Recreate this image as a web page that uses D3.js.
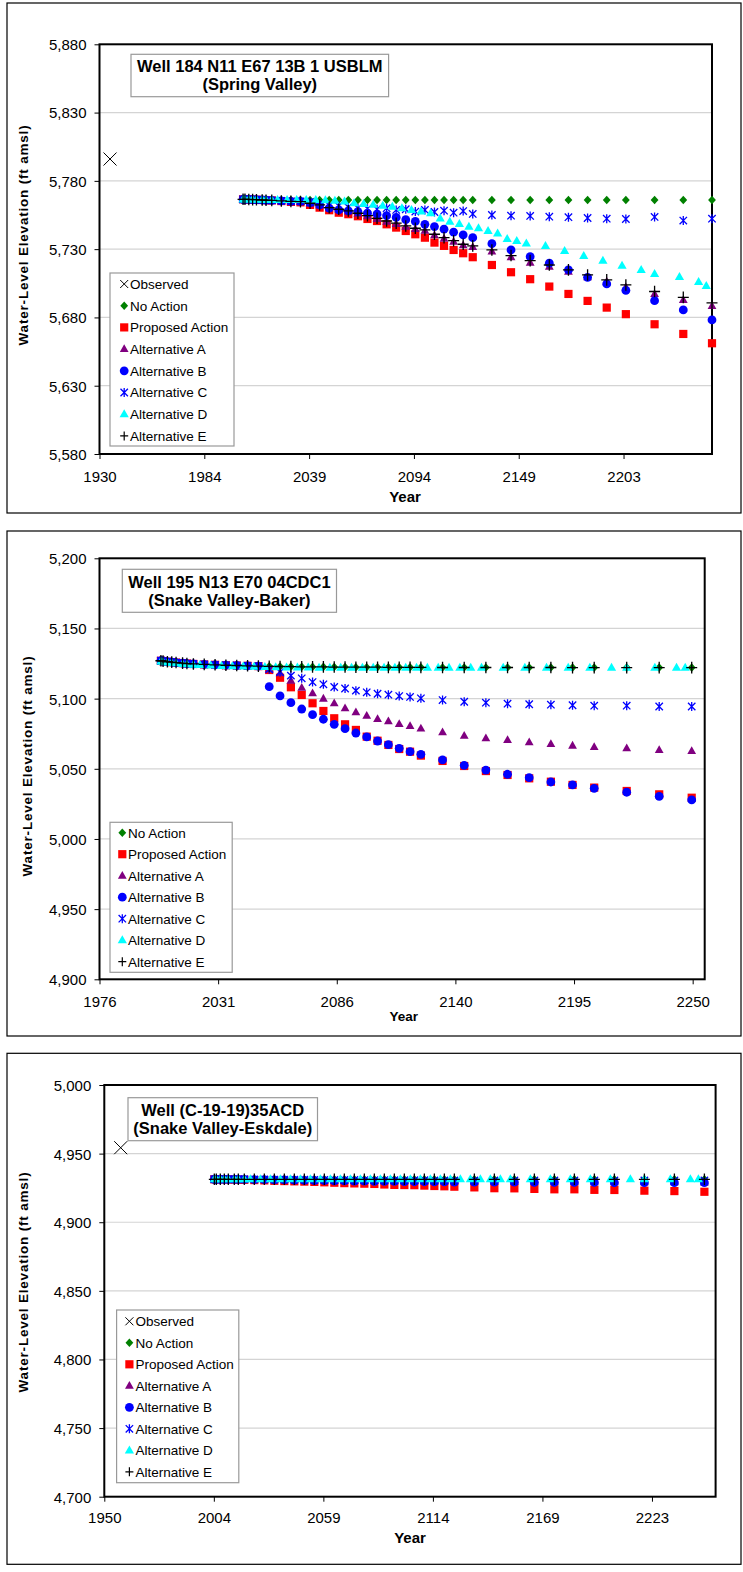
<!DOCTYPE html>
<html>
  <head>
    <title>Water-level hydrographs</title>
    <script src="https://d3js.org/d3.v7.min.js"></script>
    <style>
      body { margin: 0; background: #fff; }
      text { font-family: "Liberation Sans", Arial, sans-serif; fill: #000; }
      .tick-label { font-size: 15px; }
      .legend-label { font-size: 13.5px; }
      .title { font-size: 16.5px; font-weight: bold; }
      .axis-title { font-weight: bold; }
    </style>
  </head>
  <body>
    <svg width="743" height="1572"></svg>
    <script>
      // ---- shared time steps (decimal years) ----
      const simYears = [2005, 2006, 2008, 2010, 2012, 2015, 2017, 2020, 2025, 2030, 2035, 2040, 2045, 2050,
        2055, 2060, 2065, 2070, 2075, 2080, 2085, 2090, 2095, 2100, 2105, 2110, 2115, 2120, 2125,
        2135, 2145, 2155, 2165, 2175, 2185, 2195, 2205, 2220, 2235, 2250];
      const altDYears = [2005, 2006, 2008, 2010, 2012, 2015, 2017, 2020, 2023, 2028, 2033, 2038, 2043, 2048,
        2053, 2058, 2063, 2068, 2073, 2078, 2083, 2088, 2093, 2098, 2103, 2108, 2113, 2118, 2123, 2128,
        2133, 2138, 2143, 2148, 2153, 2163, 2173, 2183, 2193, 2203, 2213, 2220, 2233, 2243, 2247];

      // ---- Panel 1: Well 184 N11 E67 13B 1 USBLM ----
      const p1ObsYears = [1935.5];
      const p1Observed = [5796];
      const p1NoAction = [5766.5, 5766.5, 5766.4, 5766.4, 5766.3, 5766.2, 5766.1, 5766, 5766, 5766, 5766, 5766, 5766, 5766,
        5766, 5766, 5766, 5766, 5766, 5766, 5766, 5766, 5766, 5766, 5766, 5766, 5766, 5766, 5766,
        5766, 5766, 5766, 5766, 5766, 5766, 5766, 5766, 5766, 5766, 5766];
      const p1Proposed = [5766.5, 5766.5, 5766.4, 5766.3, 5766.2, 5766, 5765.8, 5765.7, 5765.2, 5764.6, 5764.3, 5762.4, 5760.4, 5758.5,
        5756.7, 5755.6, 5754.1, 5752.1, 5750.6, 5748.2, 5745.8, 5743.3, 5740.9, 5738.4, 5734.8, 5732.4, 5729.4, 5727, 5724.1,
        5718.4, 5713.1, 5708, 5702.6, 5697.2, 5692.1, 5687.2, 5682.4, 5675, 5667.9, 5661.1];
      const p1AltA = [5766.5, 5766.5, 5766.4, 5766.3, 5766.2, 5766, 5765.8, 5765.7, 5765.3, 5765, 5764.5, 5763.2, 5762, 5760,
        5758.8, 5757.6, 5755.9, 5754, 5752.1, 5750.1, 5748.4, 5746.4, 5744.7, 5743.4, 5740.2, 5737.7, 5735.5, 5732.9, 5731.6,
        5728.2, 5724.1, 5720.1, 5717.2, 5713.5, 5709.4, 5706.2, 5702.1, 5697.2, 5692.8, 5688.4];
      const p1AltB = [5766.5, 5766.5, 5766.4, 5766.3, 5766.2, 5766, 5765.8, 5765.7, 5765.3, 5765, 5765, 5764, 5762.4, 5760,
        5758.7, 5758, 5757.5, 5756.3, 5755.6, 5754.5, 5753.2, 5751.6, 5750.3, 5748.2, 5746.5, 5744.6, 5742.4, 5740.4, 5738.4,
        5734, 5729.4, 5724.5, 5719.7, 5714.8, 5709.4, 5704.5, 5699.8, 5692.3, 5685.5, 5678.2];
      const p1AltC = [5766.5, 5766.5, 5766.4, 5766.3, 5766.2, 5766, 5765.8, 5765.7, 5765.3, 5765, 5765, 5764.5, 5763, 5762,
        5761.6, 5760.7, 5760, 5759.5, 5759.2, 5760, 5758.7, 5759.2, 5757.5, 5758.7, 5757.2, 5758.2, 5756.7, 5757.9, 5755.8,
        5755, 5754.5, 5754.3, 5753.8, 5753.4, 5752.8, 5752.3, 5752.1, 5753.6, 5750.9, 5752.3];
      const p1AltD = [5766.5, 5766.5, 5766.4, 5766.4, 5766.3, 5766.2, 5766.1, 5766, 5766, 5766, 5766, 5766, 5766, 5765.8,
        5765.5, 5765, 5763.6, 5763.1, 5762.6, 5761.9, 5761.1, 5760, 5758.7, 5757.6, 5756.3, 5752.6, 5750.1, 5748.5, 5746.5, 5745.3,
        5743.4, 5741.6, 5737.5, 5736, 5734.3, 5732.3, 5728.8, 5725.1, 5721.5, 5718, 5714.8, 5711.9, 5709.6, 5706, 5703];
      const p1AltE = [5766.5, 5766.5, 5766.4, 5766.3, 5766.2, 5766, 5765.8, 5765.7, 5765.3, 5765, 5764.8, 5763.6, 5762.4, 5760.4,
        5759.2, 5758, 5756.3, 5754.5, 5752.6, 5750.6, 5749, 5747, 5745.3, 5744.1, 5740.9, 5738.4, 5736.2, 5733.6, 5732.4,
        5729.4, 5725.3, 5721.6, 5718.4, 5714.8, 5711.1, 5707.5, 5703.8, 5699, 5694.7, 5690.6];
      const p1XTickLabels = ["1930", "1984", "2039", "2094", "2149", "2203"];

      // ---- Panel 2: Well 195 N13 E70 04CDC1 ----
      const p2NoAction = [5127, 5126.7, 5126.3, 5126, 5125.7, 5125.3, 5125, 5124.7, 5124.4, 5124.1, 5123.8, 5123.6, 5123.4, 5123.2,
        5123, 5122.9, 5122.8, 5122.7, 5122.6, 5122.6, 5122.5, 5122.5, 5122.4, 5122.4, 5122.4, 5122.3, 5122.3, 5122.3, 5122.3,
        5122.2, 5122.2, 5122.2, 5122.2, 5122.2, 5122.2, 5122.1, 5122.1, 5122.1, 5122.1, 5122.1];
      const p2Proposed = [5127, 5126.7, 5126.3, 5126, 5125.7, 5125.3, 5125, 5124.7, 5124.4, 5124.1, 5123.8, 5123.6, 5123.4, 5123.2,
        5120.4, 5114.9, 5108.1, 5102.6, 5096.7, 5091.2, 5086, 5081.7, 5077.7, 5072.9, 5070, 5067, 5064.1, 5062.2, 5059.4,
        5055.6, 5052, 5048.4, 5045.6, 5043.2, 5040.8, 5038.5, 5036.6, 5034.2, 5031.8, 5029.4];
      const p2AltA = [5127, 5126.7, 5126.3, 5126, 5125.7, 5125.3, 5125, 5124.7, 5124.4, 5124.1, 5123.8, 5123.6, 5123.4, 5123.2,
        5120.9, 5118, 5112.8, 5107.8, 5103.8, 5100, 5096.7, 5093.1, 5090.3, 5087.8, 5085.5, 5083.9, 5081.9, 5080.5, 5078.7,
        5076, 5073.6, 5071.7, 5070.5, 5068.9, 5067.7, 5066.5, 5065.5, 5064.6, 5063.4, 5062.7];
      const p2AltB = [5127, 5126.7, 5126.3, 5126, 5125.7, 5125.3, 5125, 5124.7, 5124.4, 5124.1, 5123.8, 5123.6, 5123.4, 5123.2,
        5108.5, 5101.9, 5097.1, 5092.6, 5088.6, 5085.3, 5081.7, 5078.6, 5075.5, 5072.7, 5069.8, 5067.2, 5064.6, 5062.2, 5060.3,
        5056.3, 5052.5, 5049.1, 5046.1, 5043.7, 5040.6, 5038.5, 5036.1, 5033.3, 5030.4, 5027.8];
      const p2AltC = [5127, 5126.7, 5126.3, 5126, 5125.7, 5125.3, 5125, 5124.7, 5124.4, 5124.1, 5123.8, 5123.6, 5123.4, 5123.2,
        5120.9, 5119, 5116.4, 5114.5, 5111.8, 5110.2, 5108.3, 5107.2, 5105.7, 5104.5, 5103.5, 5102.8, 5101.8, 5101.2, 5100.2,
        5099, 5097.8, 5097.1, 5096.4, 5096, 5095.7, 5095.3, 5095, 5095, 5094.4, 5094.4];
      const p2AltD = [5126.5, 5126.2, 5125.8, 5125.5, 5125.2, 5124.8, 5124.5, 5124.2, 5124, 5123.7, 5123.4, 5123.2, 5123, 5122.8,
        5122.6, 5122.4, 5122.3, 5122.2, 5122.2, 5122.1, 5122.1, 5122.1, 5122, 5122, 5122, 5122, 5122, 5122, 5122, 5122,
        5122, 5122, 5122, 5122, 5122, 5122, 5122, 5122, 5122, 5122, 5122, 5122, 5122, 5122, 5122];
      const p2AltE = [5127, 5126.7, 5126.3, 5126, 5125.7, 5125.3, 5125, 5124.7, 5124.4, 5124.1, 5123.8, 5123.6, 5123.4, 5123.2,
        5123, 5122.9, 5122.8, 5122.7, 5122.6, 5122.6, 5122.5, 5122.5, 5122.4, 5122.4, 5122.4, 5122.3, 5122.3, 5122.3, 5122.3,
        5122.2, 5122.2, 5122.2, 5122.2, 5122.2, 5122.2, 5122.1, 5122.1, 5122.1, 5122.1, 5122.1];
      const p2XTickLabels = ["1976", "2031", "2086", "2140", "2195", "2250"];

      // ---- Panel 3: Well (C-19-19)35ACD ----
      const p3ObsYears = [1958.2];
      const p3Observed = [4954.3];
      const p3NoAction = [4931.3, 4931.3, 4931.3, 4931.3, 4931.3, 4931.3, 4931.3, 4931.3, 4931.3, 4931.3, 4931.3, 4931.3, 4931.3, 4931.3,
        4931.3, 4931.3, 4931.3, 4931.3, 4931.3, 4931.3, 4931.3, 4931.3, 4931.3, 4931.3, 4931.3, 4931.3, 4931.3, 4931.3, 4931.3,
        4931.3, 4931.3, 4931.3, 4931.3, 4931.3, 4931.3, 4931.3, 4931.3, 4931.3, 4931.3, 4931.3];
      const p3Proposed = [4931.3, 4931.3, 4931.3, 4931.3, 4931.2, 4931.1, 4931, 4930.9, 4930.7, 4930.5, 4930.2, 4930, 4929.8, 4929.6,
        4929.4, 4929.1, 4928.8, 4928.5, 4928.3, 4928.1, 4927.9, 4927.5, 4927.2, 4927.1, 4927, 4926.7, 4926.4, 4926.2, 4925.9,
        4925.4, 4924.8, 4924.7, 4924.3, 4924, 4924, 4923.6, 4923.5, 4923, 4922.7, 4922.2];
      const p3AltA = [4931.3, 4931.3, 4931.3, 4931.3, 4931.3, 4931.3, 4931.3, 4931.2, 4931.1, 4931, 4930.9, 4930.8, 4930.7, 4930.6,
        4930.5, 4930.4, 4930.3, 4930.2, 4930.1, 4930, 4930, 4929.9, 4929.9, 4929.8, 4929.8, 4929.7, 4929.7, 4929.6, 4929.6,
        4929.5, 4929.5, 4929.4, 4929.4, 4929.3, 4929.3, 4929.2, 4929.2, 4929.1, 4929.1, 4929];
      const p3AltB = [4931.3, 4931.3, 4931.3, 4931.3, 4931.3, 4931.3, 4931.3, 4931.2, 4931.1, 4931, 4930.9, 4930.8, 4930.6, 4930.5,
        4930.4, 4930.3, 4930.2, 4930.1, 4930, 4929.9, 4929.8, 4929.7, 4929.7, 4929.6, 4929.5, 4929.5, 4929.4, 4929.4, 4929.3,
        4929.3, 4929.2, 4929.2, 4929.1, 4929.1, 4929, 4929, 4928.9, 4928.9, 4928.8, 4928.8];
      const p3AltC = [4931.3, 4931.3, 4931.3, 4931.3, 4931.3, 4931.3, 4931.3, 4931.3, 4931.2, 4931.2, 4931.1, 4931.1, 4931, 4931,
        4930.9, 4930.9, 4930.8, 4930.8, 4930.8, 4930.7, 4930.7, 4930.7, 4930.6, 4930.6, 4930.6, 4930.6, 4930.5, 4930.5, 4930.5,
        4930.5, 4930.5, 4930.5, 4930.5, 4930.5, 4930.5, 4930.5, 4930.5, 4930.4, 4930.4, 4930.4];
      const p3AltD = [4931.4, 4931.4, 4931.4, 4931.4, 4931.4, 4931.4, 4931.4, 4931.4, 4931.4, 4931.4, 4931.4, 4931.4, 4931.4, 4931.4,
        4931.4, 4931.4, 4931.4, 4931.4, 4931.4, 4931.4, 4931.4, 4931.4, 4931.4, 4931.4, 4931.4, 4931.4, 4931.4, 4931.4, 4931.4, 4931.4,
        4931.4, 4931.4, 4931.4, 4931.4, 4931.4, 4931.4, 4931.4, 4931.4, 4931.4, 4931.4, 4931.4, 4931.4, 4931.4, 4931.4, 4931.4];
      const p3AltE = [4931.3, 4931.3, 4931.3, 4931.3, 4931.3, 4931.3, 4931.3, 4931.3, 4931.3, 4931.3, 4931.3, 4931.3, 4931.3, 4931.3,
        4931.3, 4931.3, 4931.3, 4931.3, 4931.3, 4931.3, 4931.3, 4931.3, 4931.3, 4931.3, 4931.3, 4931.3, 4931.3, 4931.3, 4931.3,
        4931.3, 4931.3, 4931.3, 4931.3, 4931.3, 4931.3, 4931.3, 4931.3, 4931.3, 4931.3, 4931.3];
      const p3XTickLabels = ["1950", "2004", "2059", "2114", "2169", "2223"];

      // ---- marker styles ----
      const circle = r => `M${r},0A${r},${r} 0 1,1 ${-r},0A${r},${r} 0 1,1 ${r},0Z`;
      const markers = {
        "Observed":        {d: "M-6.5,-6.5L6.5,6.5M-6.5,6.5L6.5,-6.5", fill: "none", stroke: "#000", sw: 1},
        "No Action":       {d: "M0,-4.3L3.9,0L0,4.3L-3.9,0Z", fill: "#008000", stroke: "none"},
        "Proposed Action": {d: "M-4.1,-4.1h8.2v8.2h-8.2Z", fill: "#ff0000", stroke: "none"},
        "Alternative A":   {d: "M0,-4.8L4.4,3L-4.4,3Z", fill: "#800080", stroke: "none"},
        "Alternative B":   {d: circle(4.4), fill: "#0000ff", stroke: "none"},
        "Alternative C":   {d: "M-3.7,-3.7L3.7,3.7M-3.7,3.7L3.7,-3.7M0,-4.5L0,4.5", fill: "none", stroke: "#0000ff", sw: 1.3},
        "Alternative D":   {d: "M0,-4.9L4.6,3.1L-4.6,3.1Z", fill: "#00ffff", stroke: "none"},
        "Alternative E":   {d: "M-5.5,0H5.5M0,-5.8V5.8", fill: "none", stroke: "#000", sw: 1.3}
      };
      const legendMarkers = Object.assign({}, markers, {
        "Observed": {d: "M-4,-4L4,4M-4,4L4,-4", fill: "none", stroke: "#000", sw: 1},
        "Alternative E": {d: "M-4,0H4M0,-4.5V4.5", fill: "none", stroke: "#000", sw: 1.2}
      });

      const DAY_STEP = 20000 / 365.25; // excel date axis, major unit 20000 days

      const panels = [
        {
          box: [7, 3, 734, 510], plot: [99.5, 44.3, 712, 454],
          xDomain: [1930, 2250], yDomain: [5580, 5880], xTickLabels: p1XTickLabels,
          title: ["Well 184 N11 E67 13B 1 USBLM", "(Spring Valley)"],
          titleBox: [131, 54.3, 257.6, 42.4], titleBase: [71.7, 90],
          legend: [110, 273, 124, 173], legendRow0: 284, legendStep: 21.7, legendMx: 124.2, legendTx: 130,
          yLabel: [23.7, 235, 13.5], year: [405, 502, 15], xTickY: 482,
          series: [
            ["Observed", p1ObsYears, p1Observed],
            ["No Action", simYears, p1NoAction],
            ["Proposed Action", simYears, p1Proposed],
            ["Alternative A", simYears, p1AltA],
            ["Alternative B", simYears, p1AltB],
            ["Alternative C", simYears, p1AltC],
            ["Alternative D", altDYears, p1AltD],
            ["Alternative E", simYears, p1AltE]
          ]
        },
        {
          box: [7, 531, 734, 505], plot: [99.5, 558.3, 704.7, 979.3],
          xDomain: [1976.66, 2256], yDomain: [4900, 5200], xTickLabels: p2XTickLabels,
          title: ["Well 195 N13 E70 04CDC1", "(Snake Valley-Baker)"],
          titleBox: [122.3, 569.3, 214.2, 43], titleBase: [587.7, 605.8],
          legend: [110, 822.3, 122.2, 150], legendRow0: 832.7, legendStep: 21.5, legendMx: 122.3, legendTx: 128,
          yLabel: [27, 766, 13.5], year: [403.8, 1021.3, 13.5], xTickY: 1007.3,
          series: [
            ["No Action", simYears, p2NoAction],
            ["Proposed Action", simYears, p2Proposed],
            ["Alternative A", simYears, p2AltA],
            ["Alternative B", simYears, p2AltB],
            ["Alternative C", simYears, p2AltC],
            ["Alternative D", altDYears, p2AltD],
            ["Alternative E", simYears, p2AltE]
          ]
        },
        {
          box: [7, 1053.3, 734, 511], plot: [104.3, 1085, 715.6, 1496.7],
          xDomain: [1950, 2255.6], yDomain: [4700, 5000], xTickLabels: p3XTickLabels,
          title: ["Well (C-19-19)35ACD", "(Snake Valley-Eskdale)"],
          titleBox: [128, 1097.7, 189.5, 43], titleBase: [1115.7, 1134.2],
          legend: [116.6, 1310, 122.2, 172.7], legendRow0: 1321.3, legendStep: 21.5, legendMx: 129.4, legendTx: 135.5,
          yLabel: [23.7, 1282, 13.5], year: [410, 1543, 15], xTickY: 1522.7,
          series: [
            ["Observed", p3ObsYears, p3Observed],
            ["No Action", simYears, p3NoAction],
            ["Proposed Action", simYears, p3Proposed],
            ["Alternative A", simYears, p3AltA],
            ["Alternative B", simYears, p3AltB],
            ["Alternative C", simYears, p3AltC],
            ["Alternative D", altDYears, p3AltD],
            ["Alternative E", simYears, p3AltE]
          ]
        }
      ];

      const svg = d3.select("svg");

      function styleMarker(sel, m) {
        sel.attr("d", m.d)
          .attr("fill", m.fill)
          .attr("stroke", m.stroke)
          .attr("stroke-width", m.sw || 0);
      }

      function drawPanel(p) {
        const g = svg.append("g");
        const [px0, py0, px1, py1] = p.plot;

        g.append("rect")
          .attr("x", p.box[0]).attr("y", p.box[1])
          .attr("width", p.box[2]).attr("height", p.box[3])
          .attr("fill", "#fff").attr("stroke", "#000").attr("stroke-width", 1.2);

        const x = d3.scaleLinear().domain(p.xDomain).range([px0, px1]);
        const y = d3.scaleLinear().domain(p.yDomain).range([py1, py0]);
        const yTicks = d3.range(p.yDomain[0], p.yDomain[1] + 1, 50);
        const xTicks = p.xTickLabels.map((_, i) => p.xDomain[0] + i * DAY_STEP);

        // gridlines
        g.append("g").selectAll("line")
          .data(yTicks.slice(1, -1))
          .join("line")
            .attr("x1", px0).attr("x2", px1)
            .attr("y1", d => y(d)).attr("y2", d => y(d))
            .attr("stroke", "#d4d4d4").attr("stroke-width", 1.2);

        // y axis
        const yAxis = d3.axisLeft(y).tickValues(yTicks).tickFormat(d3.format(",")).tickSizeOuter(0).tickSize(5).tickPadding(8);
        const yAxisG = g.append("g").attr("transform", `translate(${px0},0)`).call(yAxis);
        // x axis
        const xAxis = d3.axisBottom(x).tickValues(xTicks).tickFormat((d, i) => p.xTickLabels[i]).tickSizeOuter(0).tickSize(5);
        const xAxisG = g.append("g").attr("transform", `translate(0,${py1})`).call(xAxis);
        [yAxisG, xAxisG].forEach(a => {
          a.select(".domain").remove();
          a.selectAll(".tick line").attr("stroke", "#000");
          a.selectAll(".tick text").attr("class", "tick-label").attr("font-family", null).attr("font-size", null);
        });
        xAxisG.selectAll(".tick text").attr("y", null).attr("dy", null)
          .attr("transform", `translate(0,${p.xTickY - py1})`);
        yAxisG.selectAll(".tick text").attr("dy", "0.36em");

        // plot frame
        g.append("rect")
          .attr("x", px0).attr("y", py0)
          .attr("width", px1 - px0).attr("height", py1 - py0)
          .attr("fill", "none").attr("stroke", "#000").attr("stroke-width", 2);

        // title box
        g.append("rect")
          .attr("x", p.titleBox[0]).attr("y", p.titleBox[1])
          .attr("width", p.titleBox[2]).attr("height", p.titleBox[3])
          .attr("fill", "#fff").attr("stroke", "#999").attr("stroke-width", 1.2);
        p.title.forEach((t, i) => {
          g.append("text").attr("class", "title")
            .attr("x", p.titleBox[0] + p.titleBox[2] / 2).attr("y", p.titleBase[i])
            .attr("text-anchor", "middle").text(t);
        });

        // axis titles
        g.append("text").attr("class", "axis-title")
          .attr("transform", `translate(${p.yLabel[0]},${p.yLabel[1]}) rotate(-90)`)
          .attr("text-anchor", "middle").attr("dy", "0.35em")
          .attr("font-size", p.yLabel[2]).attr("letter-spacing", 0.8)
          .text("Water-Level Elevation (ft amsl)");
        g.append("text").attr("class", "axis-title")
          .attr("x", p.year[0]).attr("y", p.year[1])
          .attr("text-anchor", "middle").attr("font-size", p.year[2])
          .text("Year");

        // legend
        g.append("rect")
          .attr("x", p.legend[0]).attr("y", p.legend[1])
          .attr("width", p.legend[2]).attr("height", p.legend[3])
          .attr("fill", "#fff").attr("stroke", "#999").attr("stroke-width", 1.2);
        const rows = g.append("g").selectAll("g")
          .data(p.series.map(s => s[0]))
          .join("g")
            .attr("transform", (d, i) => `translate(0,${p.legendRow0 + i * p.legendStep})`);
        rows.append("path")
          .attr("transform", `translate(${p.legendMx},0)`)
          .each(function(d) { styleMarker(d3.select(this), legendMarkers[d]); });
        rows.append("text").attr("class", "legend-label")
          .attr("x", p.legendTx).attr("dy", "0.36em")
          .text(d => d);

        // series markers, drawn in legend order
        p.series.forEach(([name, years, values]) => {
          const pts = years.map((yr, i) => [yr, values[i]]);
          g.append("g").selectAll("path")
            .data(pts)
            .join("path")
              .attr("transform", d => `translate(${x(d[0])},${y(d[1])})`)
              .each(function() { styleMarker(d3.select(this), markers[name]); });
        });
      }

      panels.forEach(drawPanel);
    </script>
  </body>
</html>
